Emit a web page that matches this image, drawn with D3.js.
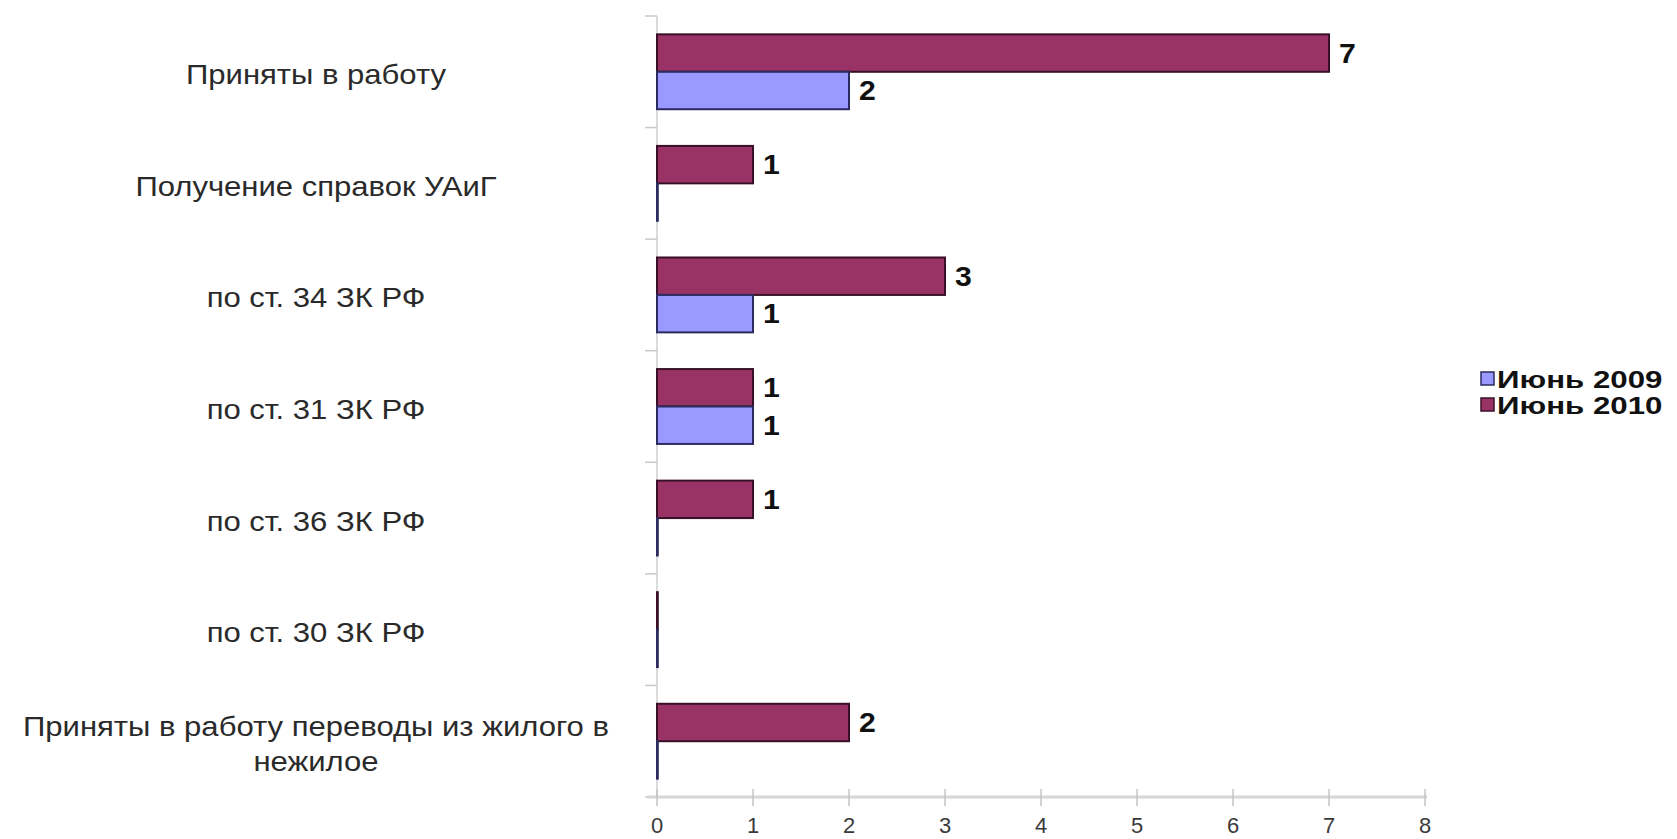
<!DOCTYPE html>
<html>
<head>
<meta charset="utf-8">
<script src="https://cdn.jsdelivr.net/npm/d3@7"></script>
<style>
html,body{margin:0;padding:0;background:#fff;}
svg{display:block;}
text{font-family:"Liberation Sans",Arial,sans-serif;}
</style>
</head>
<body>
<svg id="chart" width="1677" height="839"></svg>
<script>
const categories = ["Приняты в работу", "Получение справок УАиГ", "по ст. 34 ЗК РФ", "по ст. 31 ЗК РФ", "по ст. 36 ЗК РФ", "по ст. 30 ЗК РФ", "Приняты в работу переводы из жилого в нежилое"];
const seriesNames = ["Июнь 2009", "Июнь 2010"];
const values2009 = [2, 0, 1, 1, 0, 0, 0];
const values2010 = [7, 1, 3, 1, 1, 0, 2];
const xTicks = [0, 1, 2, 3, 4, 5, 6, 7, 8];

const colors = {"Июнь 2009": "#9999ff", "Июнь 2010": "#993366"};
const strokes = {"Июнь 2009": "#2b2b60", "Июнь 2010": "#3a1028"};

const svg = d3.select("#chart");

const x = d3.scaleLinear().domain([0, 8]).range([657, 1425]);
const y = d3.scaleBand().domain(categories).range([16, 797]).padding(0);
const yInner = d3.scaleBand().domain(["Июнь 2010", "Июнь 2009"]).range([0, y.bandwidth()]).paddingInner(0).paddingOuter(0.49);

const rows = categories.map((c, i) => ({cat: c, "Июнь 2009": values2009[i], "Июнь 2010": values2010[i]}));

// vertical axis
svg.append("line").attr("x1", x(0)).attr("x2", x(0)).attr("y1", 16).attr("y2", 797)
  .attr("stroke", "#cfcfcf").attr("stroke-width", 1.5);
// category separator ticks
const sepPos = categories.map(c => y(c)).concat([y.range()[1]]);
svg.selectAll(".sep").data(sepPos).enter().append("line")
  .attr("x1", x(0) - 12).attr("x2", x(0)).attr("y1", d => d).attr("y2", d => d)
  .attr("stroke", "#c8c8c8").attr("stroke-width", 1.5);

// horizontal axis
svg.append("line").attr("x1", x(0) - 10).attr("x2", x(8) + 2).attr("y1", 797).attr("y2", 797)
  .attr("stroke", "#d6d6d6").attr("stroke-width", 3);
svg.selectAll(".xt").data(xTicks).enter().append("line")
  .attr("x1", d => x(d)).attr("x2", d => x(d)).attr("y1", 789).attr("y2", 806)
  .attr("stroke", "#c4c4c4").attr("stroke-width", 1.5);
svg.selectAll(".xl").data(xTicks).enter().append("text")
  .attr("x", d => x(d)).attr("y", 833).attr("text-anchor", "middle")
  .attr("font-size", 22).attr("fill", "#3a3a3a").text(d => d);

// bars
const groups = svg.selectAll(".g").data(rows).enter().append("g")
  .attr("transform", d => `translate(0,${y(d.cat)})`);
["Июнь 2010", "Июнь 2009"].forEach(s => {
  groups.append("rect")
    .attr("x", x(0))
    .attr("y", yInner(s))
    .attr("width", d => Math.max(x(d[s]) - x(0), 0.8))
    .attr("height", yInner.bandwidth())
    .attr("fill", colors[s])
    .attr("stroke", strokes[s])
    .attr("stroke-width", 2);
  groups.filter(d => d[s] > 0).append("text")
    .attr("transform", d => `translate(${x(d[s]) + 10},${yInner(s) + yInner.bandwidth() / 2 + 9.5}) scale(1.12,1)`)
    .attr("font-size", 27).attr("font-weight", "bold").attr("fill", "#111")
    .text(d => d[s]);
});

// category labels (wrapped)
const labelX = 316;
const sx = 1.15;
const maxW = 560;
categories.forEach(c => {
  const t = svg.append("text").attr("font-size", 27).attr("fill", "#2a2a2a").attr("text-anchor", "middle");
  const words = c.split(" ");
  let lines = [], cur = [];
  const probe = svg.append("text").attr("font-size", 27);
  words.forEach(w => {
    const test = cur.concat([w]).join(" ");
    probe.text(test);
    if (probe.node().getComputedTextLength() > maxW && cur.length) {
      lines.push(cur.join(" ")); cur = [w];
    } else cur.push(w);
  });
  lines.push(cur.join(" "));
  probe.remove();
  const lh = 35;
  const cy = y(c) + y.bandwidth() / 2 + 3;
  const y0 = cy - (lines.length - 1) * lh / 2 + 9.5;
  t.attr("transform", `translate(${labelX},${y0}) scale(${sx},1)`);
  lines.forEach((l, i) => {
    t.append("tspan").attr("x", 0).attr("y", i * lh).text(l);
  });
});

// legend
const legend = svg.append("g");
seriesNames.forEach((s, i) => {
  const ly = 379 + i * 26;
  legend.append("rect").attr("x", 1481).attr("y", ly - 7).attr("width", 13).attr("height", 13)
    .attr("fill", colors[s]).attr("stroke", strokes[s]).attr("stroke-width", 1.5);
  legend.append("text")
    .attr("transform", `translate(1497,${ly + 8.5}) scale(1.33,1)`)
    .attr("font-size", 23.5).attr("font-weight", "bold").attr("fill", "#111")
    .text(s);
});
</script>
</body>
</html>
